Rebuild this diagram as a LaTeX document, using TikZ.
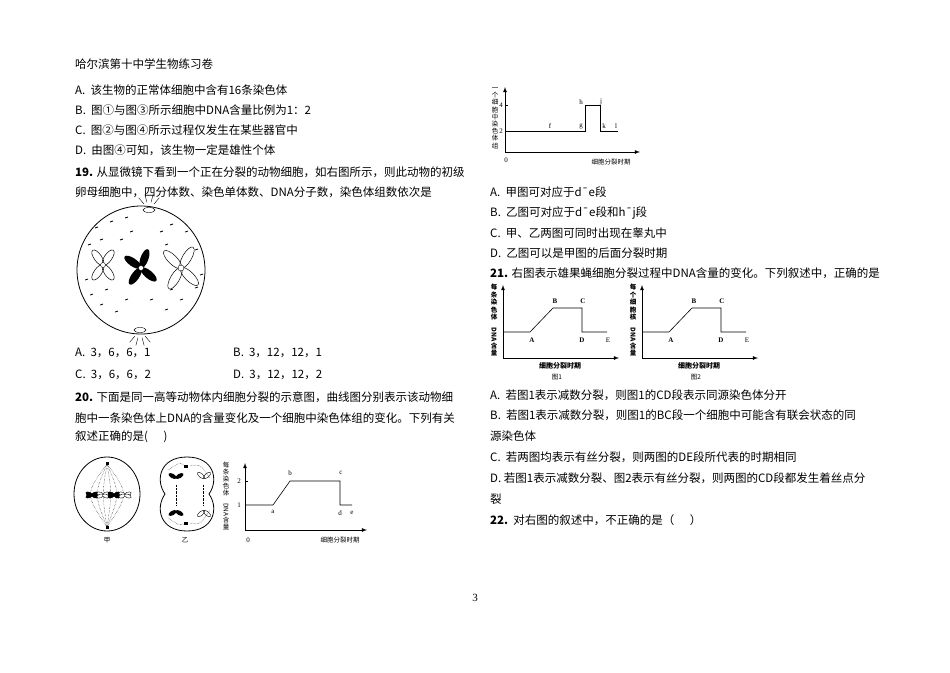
\documentclass[tikz,border=0pt]{standalone}
\usepackage{fontspec}
\setmainfont{Liberation Serif}
\newfontfamily\cjk{Noto Sans CJK SC}
\newcommand\vdna{\rotatebox{-90}{DNA}}
\begin{document}
\begin{tikzpicture}[x=1pt,y=-1pt,
  txt/.style={anchor=west,inner sep=0pt,font=\cjk\fontsize{11.5}{12}\selectfont},
  sml/.style={inner sep=0pt,font=\fontsize{7}{8}\selectfont},
  smc/.style={inner sep=0pt,font=\cjk\fontsize{6.5}{7}\selectfont},
  vlab/.style={inner sep=0pt,align=center,font=\cjk\fontsize{6.5}{7.2}\selectfont},
  ax/.style={thick,-latex},
  curve/.style={semithick},
  arm/.style={line width=0.5pt}]
\useasboundingbox (0,0) rectangle (950,672);
\fill[white] (0,0) rectangle (950,672);
% left column text
\node[txt] (h) at (75,64) {哈尔滨第十中学生物练习卷};
\node[txt] (l1) at (75,90) {A.\ \ 该生物的正常体细胞中含有16条染色体};
\node[txt] (l2) at (75,110) {B.\ \ 图①与图③所示细胞中DNA含量比例为1：2};
\node[txt] (l3) at (75,130) {C.\ \ 图②与图④所示过程仅发生在某些器官中};
\node[txt] (l4) at (75,150) {D.\ \ 由图④可知，该生物一定是雄性个体};
\node[txt] (l5) at (75,172) {\textbf{19.} 从显微镜下看到一个正在分裂的动物细胞，如右图所示，则此动物的初级};
\node[txt] (l6) at (75,192) {卵母细胞中，四分体数、染色单体数、DNA分子数，染色体组数依次是};
% cell 19
\draw[thick] (141,270) circle (64);
\draw (149,210) ellipse (6 and 2.5);
\draw (140,330) ellipse (6 and 2.5);
\foreach \a in {-50,-75,-105,-130}{\draw (149,210) ++(\a:8) -- ++(\a:8);}
\foreach \a in {50,75,105,130}{\draw (140,330) ++(\a:8) -- ++(\a:8);}
\foreach \p in {(95,228),(110,222),(125,218),(170,225),(185,232),(195,250),(90,295),(100,305),(115,312),(165,310),(180,300),(195,288),(88,245),(200,275),(85,280),(120,240),(165,245),(105,290),(125,300),(150,300),(170,290),(160,232),(130,232),(100,240)}{\draw[line width=0.8pt] \p -- ++(3,-1);}
\begin{scope}[shift={(103,265)}]
\foreach \a in {55,125,235,305}{\begin{scope}[rotate=\a]\draw[arm] (9,0) ellipse (9 and 3.8);\end{scope}}
\draw[fill=white] (0,0) circle (2.5);
\end{scope}
\begin{scope}[shift={(141,268)}]
\foreach \a in {70,145,235,320}{\begin{scope}[rotate=\a]\fill (10,0) ellipse (10 and 4);\end{scope}}
\draw[fill=white] (0,0) circle (2.5);
\end{scope}
\begin{scope}[shift={(181,268)}]
\foreach \a in {60,135,240,315}{\begin{scope}[rotate=\a]\draw[arm] (12,0) ellipse (12 and 4.5);\end{scope}}
\draw[fill=white] (0,0) circle (3);
\end{scope}
\node[txt] (o1) at (75,353) {A.\ \ 3，6，6，1};
\node[txt] (o2) at (233,353) {B.\ \ 3，12，12，1};
\node[txt] (o3) at (75,375) {C.\ \ 3，6，6，2};
\node[txt] (o4) at (233,375) {D.\ \ 3，12，12，2};
\node[txt] (q20a) at (75,397) {\textbf{20.} 下面是同一高等动物体内细胞分裂的示意图，曲线图分别表示该动物细};
\node[txt] (q20b) at (75,418) {胞中一条染色体上DNA的含量变化及一个细胞中染色体组的变化。下列有关};
\node[txt] (q20c) at (75,437) {叙述正确的是(\ \ \ \ \ \ )};
% 甲
\draw[thick] (107,494) ellipse (33 and 37);
\fill (106,462) rectangle (109,465);\fill (106,526) rectangle (109,529);
\foreach \dx in {-22,-13,-5,5,13,22}{\draw[densely dotted] (107,464) .. controls (107+\dx,494) .. (107,527);}
\foreach \x/\f in {92/black,103/white,114/black,125/white}{
\begin{scope}[shift={(\x,495)}]
\foreach \a in {20,160,200,340}{\begin{scope}[rotate=\a]\filldraw[fill=\f,line width=0.4pt] (3,0) ellipse (3.5 and 1.8);\end{scope}}
\end{scope}}
\node[smc] (jia) at (107,540) {甲};
% 乙
\draw[thick] (187,457) .. controls (160,457) and (155,480) .. (165,494) .. controls (155,508) and (160,531) .. (187,531) .. controls (214,531) and (219,508) .. (209,494) .. controls (219,480) and (214,457) .. (187,457) -- cycle;
\fill (184,465) rectangle (188,468);\fill (184,522) rectangle (188,525);
\draw[densely dotted] (176,485) -- (176,505);\draw[densely dotted] (203,485) -- (203,505);
\draw[densely dotted] (168,470) .. controls (180,462) .. (185,466);\draw[densely dotted] (190,466) .. controls (200,464) .. (210,478);
\draw[densely dotted] (168,518) .. controls (180,526) .. (185,523);\draw[densely dotted] (190,523) .. controls (200,525) .. (210,510);
\foreach \y/\s in {478/1,511/-1}{
\begin{scope}[shift={(176,\y)}]
\foreach \a in {30,150}{\begin{scope}[rotate=\s*\a]\fill (4,0) ellipse (4.5 and 2.2);\end{scope}}
\end{scope}
\begin{scope}[shift={(204,\y)}]
\foreach \a in {40,140}{\begin{scope}[rotate=\s*\a]\draw[line width=0.4pt] (4,0) ellipse (4.5 and 2);\end{scope}}
\end{scope}}
\node[smc] (yi) at (185,540) {乙};
% chart 20
\coordinate (o20) at (245,530);
\draw[ax] (o20) -- (245,463);
\draw[ax] (o20) -- (367,530);
\node[vlab] (yl20) at (226,496) {每\\条\\染\\色\\体\\\vdna\\含\\量};
\node[sml] at (248,540) {0};
\node[smc] (xl20) at (340,540) {细胞分裂时期};
\node[sml,anchor=east] at (241,505) {1};
\node[sml,anchor=east] at (241,481) {2};
\draw (245,481) -- ++(3,0);
\coordinate (pa) at (273,505);\coordinate (pb) at (290,481);\coordinate (pc) at (340,481);\coordinate (pd) at (340,505);\coordinate (pe) at (352,505);
\draw[curve] (245,505) -- (pa) -- (pb) -- (pc) -- (pd) -- (pe);
\node[sml] at (273,512) {a};\node[sml] at (290,473) {b};\node[sml] at (341,473) {c};\node[sml] at (340,513) {d};\node[sml] at (352,513) {e};
% right: top chart
\draw[ax] (505,152) -- (505,87);
\draw[ax] (505,152) -- (640,152);
\node[vlab] (yl0) at (495,118) {一\\个\\细\\胞\\中\\染\\色\\体\\组};
\node[sml] at (506,160) {0};
\node[smc] at (611,162) {细胞分裂时期};
\node[sml,anchor=east] at (503,131) {2};\node[sml,anchor=east] at (503,105) {4};
\draw (505,105) -- ++(3,0);
\draw[curve] (505,131) -- (585,131) -- (585,105) -- (600,105) -- (600,131) -- (618,131);
\node[sml] at (550,126) {f};\node[sml] at (581,126) {g};\node[sml] at (581,102) {h};\node[sml] at (601,102) {j};\node[sml] at (604,126) {k};\node[sml] at (616,126) {l};
\node[txt] (r1) at (490,192) {A.\ \ 甲图可对应于d\textasciimacron e段};
\node[txt] (r2) at (490,213) {B.\ \ 乙图可对应于d\textasciimacron e段和h\textasciimacron j段};
\node[txt] (r3) at (490,233) {C.\ \ 甲、乙两图可同时出现在睾丸中};
\node[txt] (r4) at (490,253) {D.\ \ 乙图可以是甲图的后面分裂时期};
\node[txt] (q21) at (490,273) {\textbf{21.} 右图表示雄果蝇细胞分裂过程中DNA含量的变化。下列叙述中，正确的是};
% Q21 charts
\foreach \dx/\lab/\fig in {0/{每\\条\\染\\色\\体\\\vdna\\含\\量}/图1,139/{每\\个\\细\\胞\\核\\\vdna\\含\\量}/图2}{
\begin{scope}[xshift=\dx]
\draw[ax] (503,358) -- (503,285);
\draw[ax] (503,358) -- (619,358);
\node[vlab,font=\cjk\bfseries\fontsize{6.5}{7.6}\selectfont] at (494,320) {\lab};
\draw[curve] (503,332) -- (530,332) -- (553,308) -- (582,308) -- (582,332) -- (607,332);
\node[sml,font=\bfseries\fontsize{7}{8}\selectfont] at (532,340) {A};
\node[sml,font=\bfseries\fontsize{7}{8}\selectfont] at (555,301) {B};
\node[sml,font=\bfseries\fontsize{7}{8}\selectfont] at (583,301) {C};
\node[sml,font=\bfseries\fontsize{7}{8}\selectfont] at (582,340) {D};
\node[sml] at (608,340) {E};
\node[smc,font=\cjk\bfseries\fontsize{7}{8}\selectfont] at (560,366) {细胞分裂时期};
\node[smc] at (557,377) {\fig};
\end{scope}}
\node[txt] (s1) at (490,395) {A.\ \ 若图1表示减数分裂，则图1的CD段表示同源染色体分开};
\node[txt] (s2) at (490,415) {B.\ \ 若图1表示减数分裂，则图1的BC段一个细胞中可能含有联会状态的同};
\node[txt] (s2b) at (490,436) {源染色体};
\node[txt] (s3) at (490,457) {C.\ \ 若两图均表示有丝分裂，则两图的DE段所代表的时期相同};
\node[txt] (s4) at (490,478) {D. 若图1表示减数分裂、图2表示有丝分裂，则两图的CD段都发生着丝点分};
\node[txt] (s4b) at (490,499) {裂};
\node[txt] (q22) at (490,520) {\textbf{22.}\ \ 对右图的叙述中，不正确的是（\ \ \ \ \ \ ）};
\node[inner sep=0pt,font=\fontsize{11}{12}\selectfont] (pg) at (475,598) {3};
\end{tikzpicture}
\end{document}
